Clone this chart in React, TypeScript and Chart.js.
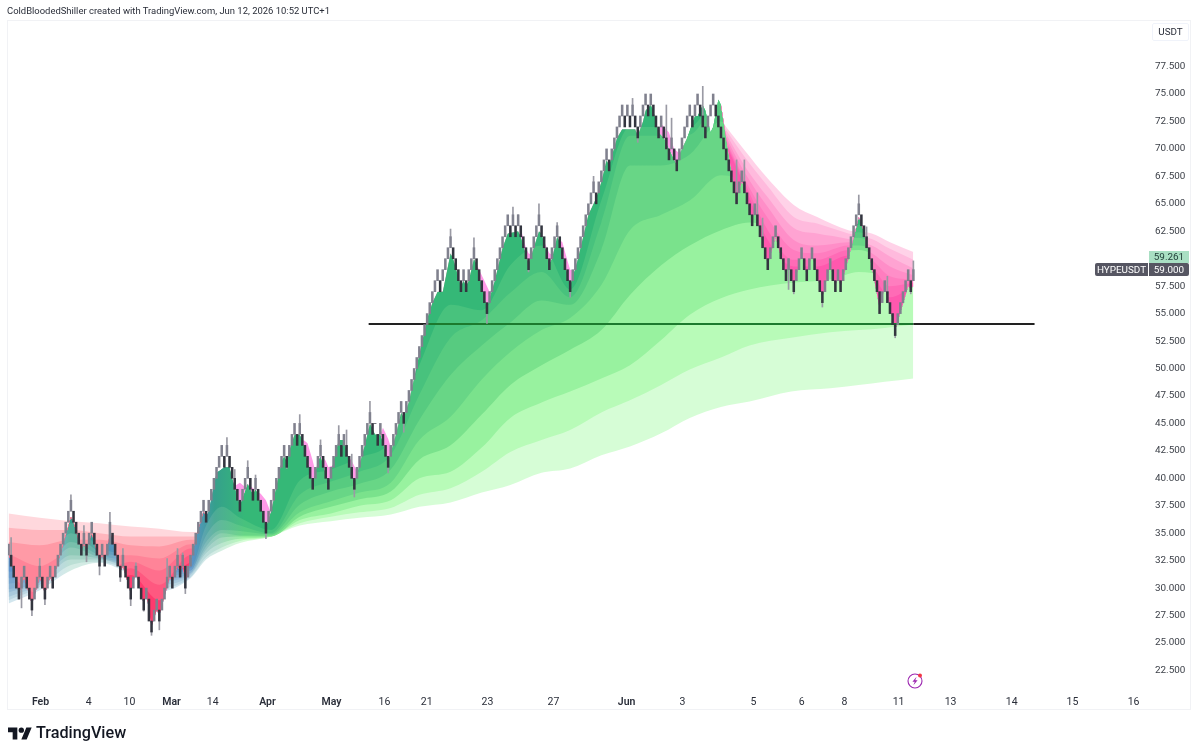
import React, { useEffect, useRef } from "react";
import { Chart, registerables } from "chart.js";

Chart.register(...registerables);

const closes = [
  34,32,31,30,29,31,32,30,29,28,
  30,31,32,30,29,31,32,30,32,33,
  34,35,36,37,38,36,35,34,33,35,
  33,35,36,34,33,32,34,32,34,36,
  34,33,32,31,33,31,30,29,31,32,
  30,29,28,30,27,26,28,29,27,29,
  30,31,32,30,32,33,31,33,30,32,
  33,34,35,36,37,38,36,38,39,40,
  41,42,43,41,43,41,40,39,38,37,
  39,40,41,39,38,40,38,37,36,35,
  37,38,39,40,41,42,43,41,43,44,
  45,43,45,43,42,41,40,39,41,42,
  43,41,40,39,41,42,43,44,42,44,
  42,41,40,39,41,42,43,44,45,46,
  44,45,43,45,43,42,41,43,44,45,
  46,47,45,47,48,49,50,51,52,53,
  54,55,56,57,58,59,57,59,60,61,
  62,60,59,58,57,59,57,59,60,61,
  59,58,57,56,55,57,58,59,60,61,
  62,63,64,62,64,62,64,62,61,60,
  59,61,62,63,64,62,61,60,59,61,
  62,63,61,60,59,58,57,59,60,61,
  62,63,64,65,66,67,65,67,68,69,
  70,68,70,71,72,73,74,72,74,72,
  74,72,71,73,74,75,73,75,73,72,
  71,73,71,70,69,71,69,68,70,71,
  72,73,74,72,74,75,73,72,71,73,
  74,75,73,72,71,70,69,68,67,66,
  65,67,68,66,65,64,63,65,63,62,
  61,60,59,61,62,63,61,60,59,58,
  60,58,57,59,60,61,59,58,60,61,
  59,58,57,56,58,59,60,58,57,59,
  57,59,60,61,62,63,64,65,63,62,
  61,60,59,58,57,55,57,58,56,55,
  54,53,55,56,57,58,59,57,59,
];

const wickUpIdx = [1,12,24,29,39,44,49,61,65,67,84,87,92,95,112,120,127,130,132,139,170,179,194,196,204,211,225,240,253,255,267,280,283,288,290,327,330,338,348];
const wickUpVal = [34.6,32.7,38.5,35.7,36.9,33.6,32.3,32.7,33.6,33.2,43.7,40.8,41.6,40.3,45.8,43.5,44.8,44.4,42.2,47,62.7,61.9,64.7,63.8,65,63.3,67.5,74.6,74,72.8,75.7,69,69,66,63.7,65.8,62.9,58.4,59.8];
const wickDownIdx = [5,9,14,17,30,35,43,47,52,55,58,68,89,99,107,133,146,152,184,200,216,242,300,302,313,341,347];
const wickDownVal = [28.2,27.5,28.5,30,32.4,31.2,30.6,28.4,27.9,25.7,26.2,29.5,38,34.5,40.9,38.3,40.5,44.2,54.1,58.8,56.5,70.6,57.2,56.8,55.6,52.8,56.8];

const smoothIdx = [0,1,4,6,9,12,14,16,17,18,21,24,25,28,29,30,32,35,36,37,39,40,43,44,47,49,52,53,55,57,58,62,63,65,66,67,68,72,75,76,77,80,83,85,86,89,92,94,95,96,99,101,105,106,107,108,110,112,113,117,119,120,123,126,127,129,131,133,137,139,141,143,146,149,151,152,154,161,163,165,167,170,171,174,175,176,177,179,180,184,187,190,192,196,197,200,204,205,208,209,211,212,216,219,223,226,228,230,231,234,236,241,242,244,245,247,248,250,252,255,257,258,261,264,265,267,268,270,271,273,274,279,280,282,283,286,287,288,292,295,299,300,302,305,307,309,313,316,318,319,320,323,327,328,331,335,337,341,346,347,348];
const smoothVal = [33,32.5,29.5,31,28.5,31,29.5,31,30.5,31.5,34,36.5,36,33.5,34,33.5,35,32.5,33,32.5,35,34.5,31.5,32,29.5,31.5,28.5,29.5,26.5,28,27.5,31,30.5,32,31.5,32,30.5,34.5,37,36.5,37,40.5,41,41,40,37.5,39.5,38.5,39,38.5,35.5,37,41.5,42,41.5,42.5,44,44,43.5,39.5,41.5,42,39.5,42.5,43.5,43.5,41.5,39.5,43,45,44,44,41.5,44,46,45.5,47,54.5,56,57,57,60.5,60,57.5,58,57.5,58,60,59.5,55.5,58,61,62.3,62.5,62,59.5,62.5,62.3,59.5,60,62,61.5,57.5,60,64,65.5,67,69,68.5,71,71.8,71.8,71.2,72.5,73.5,74,73.5,71.5,71,69.5,68.5,69.5,71,73,73,74,73.5,71.5,72,74.5,74,66.5,65.5,67,66.5,63.5,64.5,63.5,59.5,62,58.5,59.5,57.5,60.5,58.5,60.5,56.5,59.5,57.5,58.5,57.5,60,63.8,63.3,60.5,55.5,57.5,53.5,57.5,57.3,57.5];

const bullIdx = [0,12,24,35,47,58,70,76,82,89,101,112,124,135,147,158,170,182,193,205,216,228,239,251,262,274,285,301,316,327,337,348];
const bull1 = [31.5,31.8,35.9,33.7,32.9,31.6,31.8,35.7,37.4,36.4,35.3,39.8,40.8,41.9,43.5,50.3,55.8,55.3,59.4,61.2,57.2,65.3,72.0,72.0,72.0,75.0,68.1,64.0,62.6,63.1,61.2,60.3];
const bull2 = [30.9,31.2,35.0,33.3,32.7,31.4,31.6,34.8,36.2,35.7,35.0,38.5,39.7,40.6,42.1,47.6,52.8,54.4,56.9,58.8,56.5,63.3,71.2,71.2,71.3,74.5,67.6,63.5,62.2,62.4,61.0,60.2];
const bull3 = [30.4,30.9,34.2,33.0,32.4,31.1,31.6,34.2,35.3,35.2,34.9,37.6,38.8,39.5,40.8,45.3,49.4,52.1,54.2,56.2,55.8,60.8,68.5,68.5,69.5,72.5,67.2,63.1,61.7,61.9,60.8,60.1];
const bull4 = [29.9,30.6,33.7,32.8,32.1,30.8,31.4,33.8,35.0,34.8,34.8,36.9,37.9,38.7,39.6,43.5,45.6,49.0,51.5,53.5,54.6,57.6,62.6,64.0,65.3,67.6,66.7,62.8,61.2,61.2,60.4,59.9];
const bull5 = [29.6,30.5,33.0,32.7,31.9,30.6,31.3,33.5,34.6,34.7,34.7,36.5,37.4,38.1,38.8,41.7,43.0,45.8,48.5,50.3,51.7,53.5,56.7,59.4,61.2,62.6,63.3,62.2,60.6,60.8,60.1,59.7];
const bull6 = [29.2,30.3,32.6,32.6,31.6,30.3,31.2,33.2,34.1,34.5,34.7,36.2,36.8,37.5,38.0,40.0,40.6,42.8,45.5,46.9,47.9,49.1,50.3,52.6,54.9,56.4,57.2,57.8,58.1,58.8,58.6,58.8];
const bull7 = [28.9,30.1,32.1,32.4,31.5,30.0,31.0,32.8,33.7,34.3,34.7,35.9,36.5,36.9,37.3,38.5,39.1,40.6,42.4,43.5,44.4,46.0,47.1,48.5,49.9,51.0,52.1,52.8,53.3,53.5,53.7,54.0];
const bull8 = [28.6,29.8,31.6,32.3,31.2,29.7,30.9,32.6,33.4,34.1,34.7,35.7,36.1,36.4,36.7,37.4,37.8,38.7,39.4,40.5,40.9,42.1,42.9,44.1,45.5,46.5,47.0,47.9,48.2,48.5,48.8,49.1];

const bearIdx = [0,12,24,35,47,58,70,76,150,274,283,292,302,311,323,332,339,348];
const bear1 = [30,27.5,30,30,31.2,28.9,32.3,32.3,null,71.4,66.7,61.7,59.3,59.3,60.3,58.7,56.5,57.5];
const bear2 = [30.5,28,31,30.5,31.8,30.3,33.0,33.0,null,71.6,67.0,62.6,59.9,59.9,60.8,59.3,57.5,57.8];
const bear3 = [31.2,29.5,32,31.5,32.4,31.6,33.6,33.6,null,71.8,67.3,63.7,60.8,60.5,61.2,59.9,58.4,58.1];
const bear4 = [33.1,32,33.3,33,33.0,32.7,34.0,34.0,null,72.0,67.9,64.7,61.7,61.2,61.5,60.5,59.3,58.5];
const bear5 = [34.2,33.9,34.4,34.4,33.9,33.8,34.4,34.4,null,72.2,68.5,65.6,62.8,62.3,61.8,61.2,60.2,59.1];
const bear6 = [35.5,35.3,35.3,35.0,34.7,34.7,34.7,34.7,null,72.4,69.3,66.6,63.8,63.2,62.3,61.8,60.9,59.9];
const bear7 = [36.8,36.4,36.1,35.9,35.6,35.4,35.1,35.1,null,72.6,69.9,67.3,64.9,63.8,62.6,62.3,61.5,60.6];

const dipIdx = [87,89,91,92,95.5,97,99,101,102,113.5,115,117,118,119,120.5,122,123,125,130.5,132,133,134.5,143,144,146,147.5,180,181,183,185,186.5,196.5,197.5,199,200,201.5,205,206,207,208,209.5,212,213,215,216,218,250,251,254,256,258,260,261];
const dipVal = [39.3,39.6,39.2,39.5,38.8,38.6,38,36.8,37.5,43.5,43.2,41.6,40.6,41.5,42,41.6,41,41.2,42,41.6,41.1,40.5,44,44.6,43.6,42.5,59.5,59,58,57,57.4,62.2,62.3,61,60.5,60.3,62.3,61.6,61,60.5,60.3,61.7,61.5,59.8,59,58.9,71.5,72.3,71.5,70,69.6,69.5,71];

const lineIdx = [138.5,161,348,394.6];
const lineVal = [54.05,54.05,54.05,54.05];

const tickIdx = [12.3,30.8,46.5,62.7,78.5,99.6,124.2,144.6,160.8,184.2,209.6,237.7,259.2,286.5,305,321.5,342.3,362.3,385.8,409.2,432.7];
const tickNames = ["Feb","4","10","Mar","14","Apr","May","16","21","23","27","Jun","3","5","6","8","11","13","14","15","16"];
const monthNames = ["Feb","Mar","Apr","May","Jun"];

const greenRamp = ["#35b877","#48c27d","#57cb80","#68d686","#7ae28c","#98f29f","#b8fbb8","#d6fdd6"];
const blueRamp = ["#5e92cc","#6c9ccd","#78a6cf","#86b0d2","#96bcd6","#a8c9dc","#bbd7e3","#d2e6ee"];
const tealRamp = ["#35a08c","#4cab95","#62b5a0","#78bfab","#8ec9b7","#a4d3c5","#bbdfd5","#d3ebe4"];
const redRamp = ["#ff3a6e","#ff5880","#ff6f8d","#ff8498","#ff9aa6","#ffb6be","#ffd8dd"];
const pinkRamp = ["#ff58ae","#ff6bb6","#ff7dbf","#ff8ec8","#ffa3d2","#ffbadd","#ffd2e8"];

const pts = (xs: number[], ys: (number | null)[]) => xs.map((x, i) => ({ x, y: ys[i] }));

const AREA_LEFT = 8;
const AREA_RIGHT = 1150;

function App() {
  const ref = useRef<HTMLCanvasElement | null>(null);
  useEffect(() => {
    const canvas = ref.current!;
    const ctx = canvas.getContext("2d")!;
    const grad = (stops: [number, string][]) => {
      const g = ctx.createLinearGradient(AREA_LEFT, 0, AREA_RIGHT, 0);
      stops.forEach(([x, c]) => g.addColorStop((x - AREA_LEFT) / (AREA_RIGHT - AREA_LEFT), c));
      return g;
    };
    const opens: number[] = [];
    let prevUp = true;
    closes.forEach((c, i) => {
      if (i === 0) { opens.push(c - 1); return; }
      const up = c > closes[i - 1];
      opens.push(up === prevUp ? closes[i - 1] : closes[i - 1] + (up ? 1 : -1));
      prevUp = up;
    });

    const bulls = [bull1, bull2, bull3, bull4, bull5, bull6, bull7, bull8];
    const bears = [bear1, bear2, bear3, bear4, bear5, bear6, bear7];

    const datasets: any[] = [
      { type: "line", label: "smooth", data: pts(smoothIdx, smoothVal), borderWidth: 0, pointRadius: 0, fill: false, order: 100 },
    ];
    bulls.forEach((vals, k) => {
      datasets.push({
        type: "line", label: `bull${k + 1}`, data: pts(bullIdx, vals), borderWidth: 0, pointRadius: 0,
        cubicInterpolationMode: "monotone",
        fill: {
          target: 0, above: "rgba(0,0,0,0)",
          below: grad([[8, blueRamp[k]], [55, blueRamp[k]], [70, tealRamp[k]], [85, tealRamp[k]], [120, blueRamp[k]], [190, blueRamp[k]], [215, tealRamp[k]], [245, greenRamp[k]], [1150, greenRamp[k]]]),
        },
        order: 40 + k,
      });
    });
    bears.forEach((vals, k) => {
      datasets.push({
        type: "line", label: `bear${k + 1}`, data: pts(bearIdx, vals), borderWidth: 0, pointRadius: 0,
        cubicInterpolationMode: "monotone",
        fill: {
          target: 0, below: "rgba(0,0,0,0)",
          above: grad([[8, redRamp[k]], [200, redRamp[k]], [700, pinkRamp[k]], [1150, pinkRamp[k]]]),
        },
        order: 20 + k,
      });
    });
    datasets.push({
      type: "line", label: "dips", data: pts(dipIdx, dipVal), borderWidth: 0, pointRadius: 0,
      fill: { target: 0, above: "#ff9ae8", below: "rgba(0,0,0,0)" }, order: 15,
    });
    datasets.push({
      type: "line", label: "level", data: pts(lineIdx, lineVal), pointRadius: 0, borderWidth: 2, fill: false,
      borderColor: "#222",
      segment: { borderColor: (c: any) => (c.p0.parsed.x >= 161 && c.p0.parsed.x < 348 ? "#1c7a2e" : "#222222") },
      order: 5,
    });
    datasets.push({
      type: "bar", label: "wickUp", data: wickUpIdx.map((x, i) => ({ x, y: [closes[x], wickUpVal[i]] })),
      backgroundColor: "#9a9aa4", barThickness: 1, grouped: false, order: 3,
    });
    datasets.push({
      type: "bar", label: "wickDown", data: wickDownIdx.map((x, i) => ({ x, y: [closes[x], wickDownVal[i]] })),
      backgroundColor: "#9a9aa4", barThickness: 1, grouped: false, order: 3,
    });
    datasets.push({
      type: "bar", label: "bricks", data: closes.map((c, i) => ({ x: i, y: [opens[i], c] })),
      backgroundColor: closes.map((c, i) => (c > opens[i] ? "#80818e" : "#33353f")),
      barThickness: 1.9, grouped: false, order: 1,
    });

    const chart = new Chart(canvas, {
      type: "bar",
      data: { datasets },
      options: {
        animation: false,
        responsive: false,
        events: [],
        layout: { padding: { left: AREA_LEFT, top: 20, right: 0, bottom: 45 } },
        plugins: { legend: { display: false }, tooltip: { enabled: false } },
        scales: {
          x: {
            type: "linear",
            offset: false,
            min: -0.2,
            max: 439,
            grid: { display: false, drawTicks: false },
            border: { display: false },
            afterFit: (s: any) => { s.height = 20; },
            afterBuildTicks: (s: any) => { s.ticks = tickIdx.map((value) => ({ value })); },
            ticks: {
              autoSkip: false,
              maxRotation: 0,
              padding: 6,
              color: "#2a2e39",
              font: (c: any) => {
                const i = c.index;
                return { family: "Roboto", size: 10.5, weight: monthNames.includes(tickNames[i]) ? "600" : "400" };
              },
              callback: (_v: any, i: number) => tickNames[i],
            },
          },
          y: {
            position: "right",
            min: 20.72,
            max: 81.74,
            grid: { display: false, drawTicks: false },
            border: { display: false },
            afterFit: (s: any) => { s.width = 50; },
            ticks: {
              stepSize: 2.5,
              includeBounds: false,
              padding: 5,
              color: "#3c4048",
              font: { family: "Roboto", size: 9.9 },
              callback: (v: any) => {
                const n = Number(v);
                return n === 60 || n > 78 || n < 22 ? "" : n.toFixed(3);
              },
            },
          },
        },
      } as any,
    } as any);
    return () => chart.destroy();
  }, []);

  const abs = (o: React.CSSProperties): React.CSSProperties => ({ position: "absolute", fontFamily: "Roboto, sans-serif", ...o });
  return (
    <div style={{ position: "fixed", left: 0, top: 0, width: 1200, height: 755, background: "#fff", overflow: "hidden" }}>
      <div style={abs({ left: 7, top: 20, width: 1184, height: 690, border: "1px solid #f1f2f5", boxSizing: "border-box" })} />
      <canvas ref={ref} width={1200} height={755} style={{ position: "absolute", left: 0, top: 0, width: 1200, height: 755 }} />
      <div style={abs({ left: 7, top: 4, fontSize: 9.45, lineHeight: "14px", color: "#2a2e39", whiteSpace: "nowrap" })}>
        ColdBloodedShiller created with TradingView.com, Jun 12, 2026 10:52 UTC+1
      </div>
      <div style={abs({ left: 1152, top: 23, width: 37, height: 18, border: "1px solid #f0f3fa", boxSizing: "border-box", borderRadius: 2, fontSize: 9.9, lineHeight: "16px", textAlign: "center", color: "#2a2e39" })}>USDT</div>
      <div style={abs({ left: 1149, top: 251, width: 40, height: 12, background: "#a9dfc3", fontSize: 9.9, lineHeight: "12px", textAlign: "center", color: "#23403a" })}>59.261</div>
      <div style={abs({ left: 1149, top: 263, width: 40, height: 13, background: "#565662", fontSize: 9.9, lineHeight: "13px", textAlign: "center", color: "#fff", borderRadius: "0 2px 2px 0" })}>59.000</div>
      <div style={abs({ left: 1095, top: 263, width: 53, height: 13, background: "#565662", fontSize: 9.9, lineHeight: "13px", textAlign: "center", color: "#fff", borderRadius: "2px 0 0 2px" })}>HYPEUSDT</div>
      <svg style={{ position: "absolute", left: 906, top: 672 }} width={18} height={18} viewBox="0 0 18 18">
        <circle cx={9} cy={9} r={7} fill="none" stroke="#9c27b0" strokeWidth={1.1} />
        <path d="M10.6 4.8 6.4 9.8h2.4L7.4 13.2l4.2-5h-2.4z" fill="#9c27b0" />
        <circle cx={14} cy={3.6} r={2} fill="#f23645" />
      </svg>
      <svg style={{ position: "absolute", left: 8, top: 727 }} width={24} height={13} viewBox="0 4 36 18">
        <path d="M14 22H7V11H0V4h14v18zM28 22h-8l7.5-18h8L28 22z" fill="#131722" />
        <circle cx={20} cy={8} r={4} fill="#131722" />
      </svg>
      <div style={abs({ left: 36, top: 722, fontSize: 16.2, lineHeight: "22px", fontWeight: 500, color: "#131722", whiteSpace: "nowrap" })}>TradingView</div>
    </div>
  );
}

export default App;
